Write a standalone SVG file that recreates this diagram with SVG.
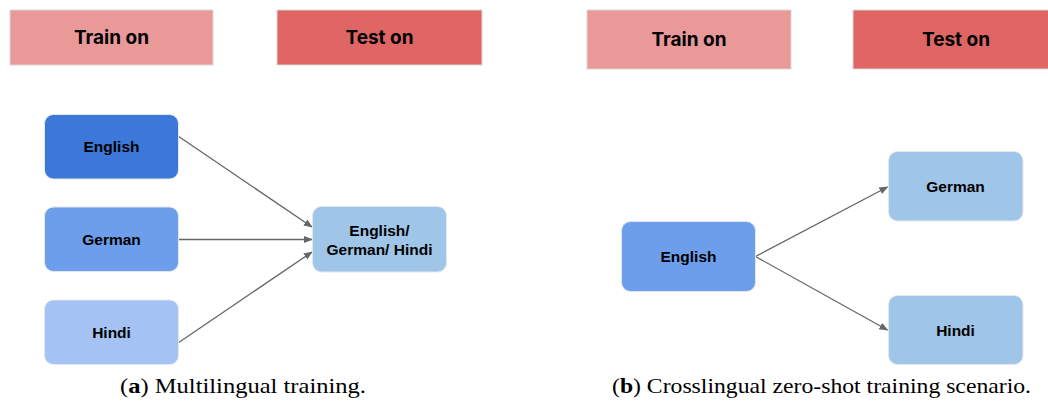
<svg xmlns="http://www.w3.org/2000/svg" width="1048" height="401" viewBox="0 0 1048 401">
<style>
.hdr{stroke:#d9d9d9;stroke-width:1}
.train{fill:#ea9999}
.test{fill:#e06666}
.ht{font-family:Inter,"Noto Sans",sans-serif;font-weight:700;font-size:19px;fill:#000;text-anchor:middle}
.node{stroke:#e3e8ee;stroke-width:1}
.nt{font-family:"Liberation Sans",Arial,sans-serif;font-weight:700;font-size:15.5px;fill:#000;text-anchor:middle}
.cap{font-family:"Liberation Serif","Times New Roman",serif;font-size:21px;fill:#000}
.edge{stroke:#666;stroke-width:1.3;fill:none;marker-end:url(#arr)}
</style>
<defs>
<marker id="arr" viewBox="0 0 10 10" refX="9" refY="5" markerWidth="9" markerHeight="9" markerUnits="userSpaceOnUse" orient="auto">
<path d="M0,1 L10,5 L0,9 z" fill="#666"/>
</marker>
</defs>
<rect width="1048" height="401" fill="#fff"/>
<g id="hdr-a-train"><rect class="hdr train" x="10" y="10" width="203" height="55"/><text class="ht" x="111.5" y="44">Train on</text></g>
<g id="hdr-a-test"><rect class="hdr test" x="277" y="10" width="205" height="55"/><text class="ht" x="379.5" y="44">Test on</text></g>
<g id="hdr-b-train"><rect class="hdr train" x="587" y="10" width="204" height="59"/><text class="ht" x="689" y="46">Train on</text></g>
<g id="hdr-b-test"><rect class="hdr test" x="853" y="10" width="196" height="59"/><text class="ht" x="956" y="46">Test on</text></g>
<g id="connectors">
<line class="edge" x1="178" y1="136" x2="312" y2="227"/>
<line class="edge" x1="178" y1="239.5" x2="312" y2="239.5"/>
<line class="edge" x1="178" y1="343" x2="312" y2="252"/>
<line class="edge" x1="755.5" y1="256.5" x2="887.5" y2="187"/>
<line class="edge" x1="755.5" y1="256.5" x2="887.5" y2="330"/>
</g>
<g id="a-english"><rect class="node" x="44.5" y="114.5" width="134" height="64.5" rx="9" fill="#3c78d8"/><text class="nt" x="111.5" y="152">English</text></g>
<g id="a-german"><rect class="node" x="44.5" y="207" width="134" height="64.5" rx="9" fill="#6d9eeb"/><text class="nt" x="111.5" y="245">German</text></g>
<g id="a-hindi"><rect class="node" x="44.5" y="300" width="134" height="64.5" rx="9" fill="#a4c2f4"/><text class="nt" x="111.5" y="338">Hindi</text></g>
<g id="a-target"><rect class="node" x="312.5" y="206.5" width="134" height="65.5" rx="9" fill="#9fc5e8"/><text class="nt" x="379.5" y="236">English/</text><text class="nt" x="379.5" y="255">German/ Hindi</text></g>
<g id="b-english"><rect class="node" x="621.5" y="221.5" width="134" height="70" rx="9" fill="#6d9eeb"/><text class="nt" x="688.5" y="262">English</text></g>
<g id="b-german"><rect class="node" x="888.5" y="151.5" width="134.5" height="69.5" rx="9" fill="#9fc5e8"/><text class="nt" x="955.5" y="192">German</text></g>
<g id="b-hindi"><rect class="node" x="888.5" y="295.5" width="134.5" height="69" rx="9" fill="#9fc5e8"/><text class="nt" x="955.5" y="336">Hindi</text></g>
<text class="cap" x="120" y="393" textLength="246" lengthAdjust="spacingAndGlyphs">(<tspan font-weight="700">a</tspan>) Multilingual training.</text>
<text class="cap" x="612" y="393" textLength="419" lengthAdjust="spacingAndGlyphs">(<tspan font-weight="700">b</tspan>) Crosslingual zero-shot training scenario.</text>
</svg>
